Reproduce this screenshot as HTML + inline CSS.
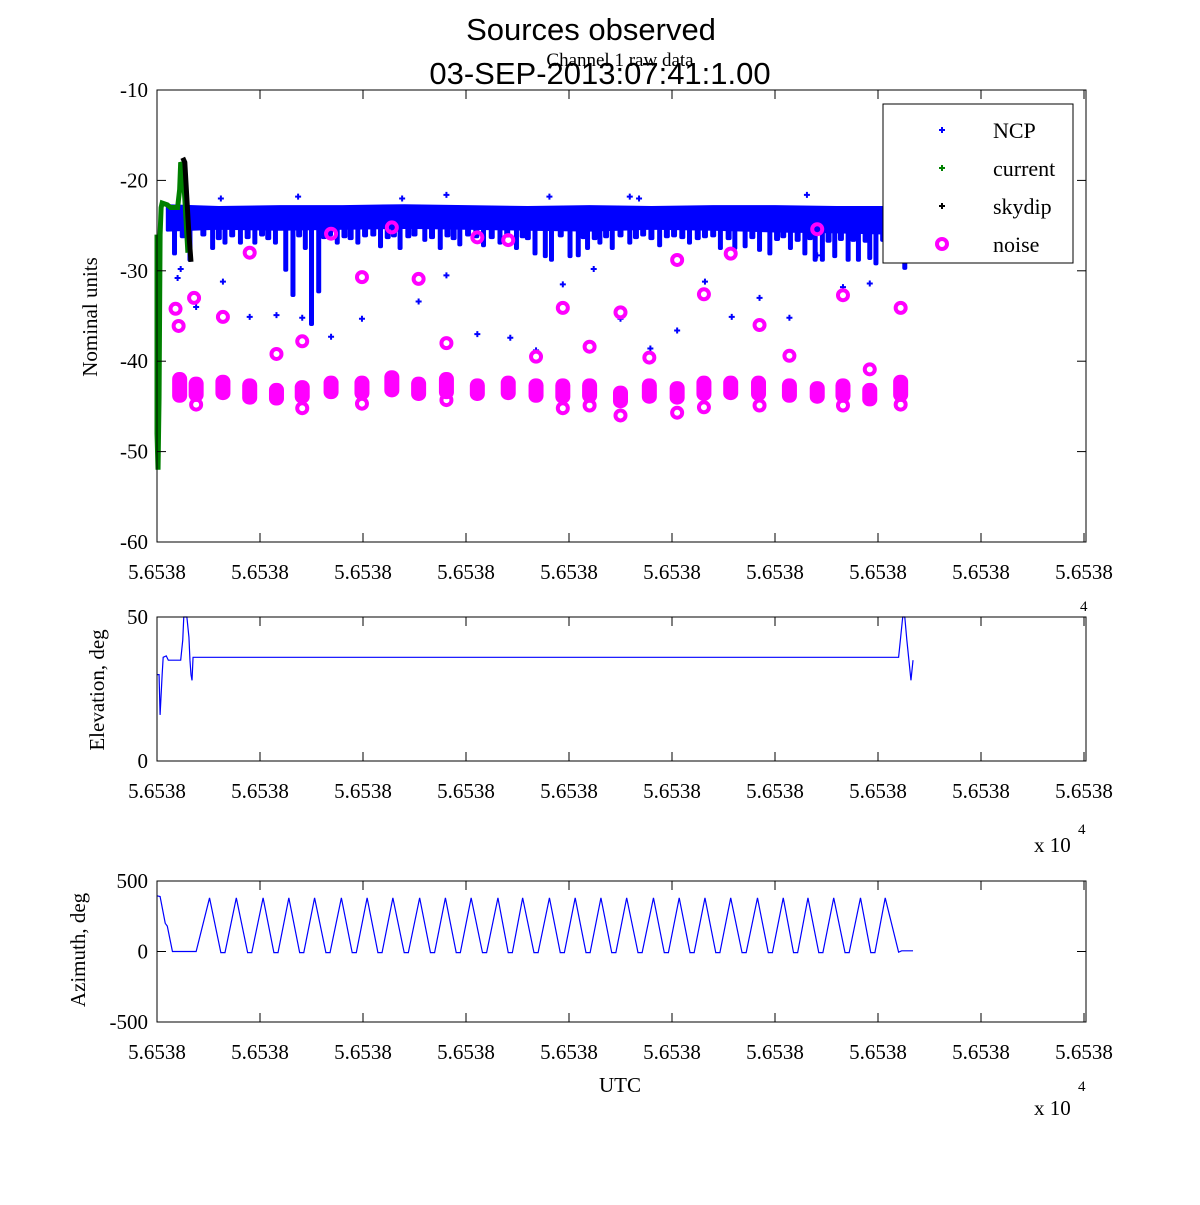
<!DOCTYPE html>
<html><head><meta charset="utf-8"><style>
body{margin:0;background:#fff}
svg text{font-family:"Liberation Serif",serif;fill:#000}
</style></head><body>
<svg id="fig" width="1200" height="1200" viewBox="0 0 1200 1200" xmlns="http://www.w3.org/2000/svg">
<rect width="1200" height="1200" fill="#fff"/>
<text x="591" y="40" font-size="31" text-anchor="middle" style="font-family:'Liberation Sans',sans-serif">Sources observed</text>
<text x="620" y="66" font-size="19" text-anchor="middle">Channel 1 raw data</text>
<text x="600" y="84" font-size="31" text-anchor="middle" style="font-family:'Liberation Sans',sans-serif">03-SEP-2013:07:41:1.00</text>
<g id="p1"></g>
<g id="p2"></g>
<g id="p3"></g>
</svg>
<script>
// ---- data (x in units of axis ticks, 0..9) ----
const xTickLabels=["5.6538","5.6538","5.6538","5.6538","5.6538","5.6538","5.6538","5.6538","5.6538","5.6538"];
const y1Ticks=[-10,-20,-30,-40,-50,-60];
const y2Ticks=[0,50];
const y3Ticks=[-500,0,500];
const bandT=[0.1,0.6,1.2,1.8,2.4,3.0,3.6,4.2,4.8,5.4,6.0,6.6,7.0,7.35];
const bandTop=[-22.8,-23.0,-22.9,-22.9,-22.8,-22.9,-23.0,-22.9,-23.0,-22.9,-22.9,-23.0,-23.0,-23.0];
const bandBot=[-25.5,-25.3,-25.4,-25.3,-25.2,-25.3,-25.4,-25.5,-25.3,-25.4,-25.6,-25.7,-25.8,-25.9];
const dipT=[0.17,0.32,0.54,0.66,0.81,0.95,1.15,1.25,1.32,1.44,1.50,1.57,1.75,1.95,2.17,2.36,2.60,2.75,2.94,3.17,3.33,3.49,3.67,3.77,3.83,4.01,4.09,4.18,4.30,4.42,4.59,4.88,5.17,5.47,5.61,5.71,5.85,5.95,6.15,6.29,6.39,6.46,6.58,6.71,6.81,6.92,6.98,7.12,7.26];
const dipV=[-28.3,-29.0,-27.7,-27.1,-27.1,-27.1,-27.1,-30.1,-32.9,-27.7,-36.1,-32.5,-27.1,-27.1,-27.5,-27.7,-26.8,-27.7,-27.3,-27.4,-27.1,-27.7,-28.3,-28.6,-29.0,-28.6,-28.5,-27.7,-27.1,-27.7,-27.1,-27.4,-27.1,-27.7,-27.7,-27.5,-27.9,-28.3,-27.7,-28.3,-29.0,-29.0,-28.6,-29.0,-29.0,-28.8,-29.4,-28.3,-29.9];
const smallDipT=[0.25,0.45,0.6,0.73,0.88,1.02,1.08,1.38,1.62,1.68,1.82,1.88,2.02,2.1,2.24,2.3,2.44,2.5,2.67,2.82,2.88,3.02,3.1,3.25,3.4,3.55,3.6,3.92,4.14,4.25,4.36,4.5,4.65,4.72,4.8,4.95,5.02,5.1,5.25,5.32,5.4,5.55,5.78,6.02,6.08,6.22,6.34,6.52,6.64,6.76,6.88,7.05,7.18,7.32];
const smallDipV=[-26.4,-26.2,-26.6,-26.3,-26.5,-26.2,-26.6,-26.3,-26.5,-26.2,-26.4,-26.6,-26.3,-26.2,-26.5,-26.3,-26.4,-26.2,-26.5,-26.3,-26.6,-26.2,-26.4,-26.5,-26.3,-26.4,-26.6,-26.3,-26.5,-26.6,-26.4,-26.3,-26.5,-26.2,-26.6,-26.4,-26.3,-26.5,-26.6,-26.4,-26.3,-26.6,-26.5,-26.7,-26.4,-26.8,-26.6,-26.9,-26.7,-26.8,-26.9,-26.8,-27.0,-26.8];
const ncpOutT=[0.23,0.20,0.38,0.64,0.90,1.16,1.41,1.69,1.99,2.54,2.81,3.11,3.43,3.68,3.94,4.24,4.50,4.79,5.05,5.32,5.58,5.85,6.14,6.41,6.66,6.92];
const ncpOutV=[-29.8,-30.8,-34.0,-31.2,-35.1,-34.9,-35.2,-37.3,-35.3,-33.4,-30.5,-37.0,-37.4,-38.8,-31.5,-29.8,-35.3,-38.6,-36.6,-31.2,-35.1,-33.0,-35.2,-28.3,-31.8,-31.4];
const ncpTopT=[0.62,1.37,2.38,2.81,3.81,4.59,4.68,6.31,7.21];
const ncpTopV=[-22.0,-21.8,-22.0,-21.6,-21.8,-21.8,-22.0,-21.6,-21.9];
const curT=[0,0,0.01,0.02,0.03,0.04,0.05,0.1,0.13,0.2,0.22,0.23,0.25,0.27,0.3];
const curV=[-26,-48,-52,-44,-26,-23,-22.5,-22.7,-23,-23,-21,-18,-18.5,-22,-28];
const skyT=[0.25,0.27,0.29,0.31,0.33];
const skyV=[-17.5,-18,-22,-26,-29];
const noiseT=[0.18,0.21,0.36,0.64,0.90,1.16,1.41,1.69,1.99,2.28,2.54,2.81,3.11,3.41,3.68,3.94,4.20,4.50,4.78,5.05,5.31,5.57,5.85,6.14,6.41,6.66,6.92,7.22,0.38,1.41,1.99,2.81,3.94,4.20,4.50,5.05,5.31,5.85,6.66,7.22];
const noiseV=[-34.2,-36.1,-33.0,-35.1,-28.0,-39.2,-37.8,-25.9,-30.7,-25.2,-30.9,-38.0,-26.3,-26.6,-39.5,-34.1,-38.4,-34.6,-39.6,-28.8,-32.6,-28.1,-36.0,-39.4,-25.4,-32.7,-40.9,-34.1,-44.8,-45.2,-44.7,-44.3,-45.2,-44.9,-46.0,-45.7,-45.1,-44.9,-44.9,-44.8];
const clusterT=[0.22,0.38,0.64,0.90,1.16,1.41,1.69,1.99,2.28,2.54,2.81,3.11,3.41,3.68,3.94,4.20,4.50,4.78,5.05,5.31,5.57,5.84,6.14,6.41,6.66,6.92,7.22];
const clusterTop=[-41.2,-41.7,-41.5,-41.9,-42.4,-42.1,-41.6,-41.6,-41.0,-41.7,-41.2,-41.9,-41.6,-41.9,-41.9,-41.9,-42.7,-41.9,-42.2,-41.6,-41.6,-41.6,-41.9,-42.2,-41.9,-42.4,-41.5];
const clusterBot=[-44.6,-44.5,-44.3,-44.8,-44.9,-44.7,-44.2,-44.3,-44.0,-44.4,-44.2,-44.4,-44.3,-44.6,-44.7,-44.6,-45.2,-44.7,-44.8,-44.4,-44.3,-44.4,-44.6,-44.7,-44.6,-45.0,-44.5];
const elT=[0,0.02,0.03,0.05,0.06,0.09,0.11,0.23,0.25,0.26,0.29,0.31,0.32,0.33,0.34,0.35,7.2,7.22,7.24,7.26,7.28,7.3,7.32,7.34];
const elV=[30,30,16,30,36,36.5,35,35,42,50,50,43,35,30,28,36,36,43,50,50,42,35,28,35];
const azPeakT=[0.51,0.77,1.03,1.28,1.53,1.79,2.04,2.29,2.55,2.80,3.05,3.31,3.55,3.81,4.06,4.31,4.56,4.82,5.07,5.32,5.57,5.83,6.08,6.32,6.57,6.83,7.07];
const azPeakV=380, azTroughV=-8;
const azStartT=[0,0.03,0.08,0.1,0.15,0.38];
const azStartV=[395,390,200,180,0,0];
const azEndT=[7.2,7.23,7.34];
const azEndV=[-5,5,5];

// ---- helpers ----
const NS="http://www.w3.org/2000/svg";
function mk(parent,tag,attrs,name){const e=document.createElementNS(NS,tag);for(const k in attrs)e.setAttribute(k,attrs[k]);


parent.appendChild(e);return e;}
const X0=157,X1=1086,XS=103;
const xs=t=>X0+t*XS;
const P1={top:90,bot:542,vmax:-10,vmin:-60};
const P2={top:617,bot:761,vmax:50,vmin:0};
const P3={top:881,bot:1022,vmax:500,vmin:-500};
const ys=(P,v)=>P.top+(P.vmax-v)/(P.vmax-P.vmin)*(P.bot-P.top);

function axes(g,P,yt){
  mk(g,'rect',{x:X0,y:P.top,width:X1-X0,height:P.bot-P.top,fill:'none',stroke:'#000','stroke-width':1},'axes-box');
  xTickLabels.forEach((l,i)=>{const x=xs(i);
    mk(g,'line',{x1:x,x2:x,y1:P.bot,y2:P.bot-9,stroke:'#000'},'x-tick');
    mk(g,'line',{x1:x,x2:x,y1:P.top,y2:P.top+9,stroke:'#000'},'x-tick');
    const t=mk(g,'text',{x:x,y:P.bot+37,'font-size':21,'text-anchor':'middle'},'x-tick-label');t.textContent=l;});
  yt.forEach(v=>{const y=ys(P,v);
    mk(g,'line',{x1:X0,x2:X0+9,y1:y,y2:y,stroke:'#000'},'y-tick');
    mk(g,'line',{x1:X1,x2:X1-9,y1:y,y2:y,stroke:'#000'},'y-tick');
    const t=mk(g,'text',{x:X0-9,y:y+7,'font-size':21,'text-anchor':'end'},'y-tick-label');t.textContent=v;});
}
const g1=document.getElementById('p1'),g2=document.getElementById('p2'),g3=document.getElementById('p3');

// Panel 1
const clip=mk(g1,'g',{},'plot-area');
let pts=bandT.map((t,i)=>xs(t)+','+ys(P1,bandTop[i])).concat(bandT.slice().reverse().map((t,i)=>xs(t)+','+ys(P1,bandBot[bandT.length-1-i])));
mk(clip,'polygon',{points:pts.join(' '),fill:'#0000ff',stroke:'#0000ff','stroke-width':3,'stroke-linejoin':'round'},'ncp-band');
dipT.forEach((t,i)=>{mk(clip,'rect',{x:xs(t)-2.5,y:ys(P1,-25.2),width:5,height:ys(P1,dipV[i])-ys(P1,-25.2),rx:2,fill:'#0000ff'},'ncp-dip');});
smallDipT.forEach((t,i)=>{mk(clip,'rect',{x:xs(t)-3,y:ys(P1,-25.2),width:6,height:ys(P1,smallDipV[i])-ys(P1,-25.2),rx:2,fill:'#0000ff'},'ncp-small-dip');});
ncpOutT.forEach((t,i)=>{mk(clip,'path',{d:`M${xs(t)-3},${ys(P1,ncpOutV[i])}h6M${xs(t)},${ys(P1,ncpOutV[i])-3}v6`,stroke:'#0000ff','stroke-width':2},'ncp-point');});
ncpTopT.forEach((t,i)=>{mk(clip,'path',{d:`M${xs(t)-3},${ys(P1,ncpTopV[i])}h6M${xs(t)},${ys(P1,ncpTopV[i])-3}v6`,stroke:'#0000ff','stroke-width':2},'ncp-point');});
clusterT.forEach((t,i)=>{const yt=ys(P1,clusterTop[i]),yb=ys(P1,clusterBot[i]);
  mk(clip,'rect',{x:xs(t)-7.5,y:yt,width:15,height:yb-yt,rx:7,ry:7,fill:'#ff00ff'},'noise-cluster');});
noiseT.forEach((t,i)=>{mk(clip,'circle',{cx:xs(t),cy:ys(P1,noiseV[i]),r:5,fill:'none',stroke:'#ff00ff','stroke-width':4},'noise-point');});
mk(clip,'polyline',{points:curT.map((t,i)=>xs(t)+','+ys(P1,curV[i])).join(' '),fill:'none',stroke:'#008000','stroke-width':5},'current-series');
mk(clip,'polyline',{points:skyT.map((t,i)=>xs(t)+','+ys(P1,skyV[i])).join(' '),fill:'none',stroke:'#000','stroke-width':5},'skydip-series');
axes(g1,P1,y1Ticks);
let t=mk(g1,'text',{x:0,y:0,'font-size':21,'text-anchor':'middle',transform:'translate(97,317) rotate(-90)'},'y-axis-title');t.textContent='Nominal units';
t=mk(g1,'text',{x:1080,y:611,'font-size':15},'x-exponent');t.textContent='4';
const lg=mk(g1,'g',{},'legend');
mk(lg,'rect',{x:883,y:104,width:190,height:159,fill:'#fff',stroke:'#000'},'legend-box');
const legItems=[['NCP','#0000ff'],['current','#008000'],['skydip','#000'],['noise','#ff00ff']];
legItems.forEach((it,i)=>{const y=130+i*38;
  if(i<3) mk(lg,'path',{d:`M${939},${y}h6M${942},${y-3}v6`,stroke:it[1],'stroke-width':2},'legend-marker');
  else mk(lg,'circle',{cx:942,cy:y,r:5,fill:'none',stroke:it[1],'stroke-width':4},'legend-marker');
  const tx=mk(lg,'text',{x:993,y:y+8,'font-size':22},'legend-label');tx.textContent=it[0];});

// Panel 2
mk(g2,'polyline',{points:elT.map((t,i)=>xs(t)+','+ys(P2,elV[i])).join(' '),fill:'none',stroke:'#0000ff','stroke-width':1.2},'elevation-line');
axes(g2,P2,y2Ticks);
t=mk(g2,'text',{x:0,y:0,'font-size':21,'text-anchor':'middle',transform:'translate(104,690) rotate(-90)'},'y-axis-title');t.textContent='Elevation, deg';
t=mk(g2,'text',{x:1034,y:852,'font-size':21},'x-multiplier');t.textContent='x 10';
t=mk(g2,'text',{x:1078,y:834,'font-size':15},'x-exponent');t.textContent='4';

// Panel 3
let azT=azStartT.slice(),azV=azStartV.slice();
azPeakT.forEach((pt,i)=>{azT.push(pt);azV.push(azPeakV);
  if(i<azPeakT.length-1){const nt=(pt+azPeakT[i+1])/2;azT.push(nt-0.02,nt+0.02);azV.push(azTroughV,azTroughV);}});
azEndT.forEach((tt,i)=>{azT.push(tt);azV.push(azEndV[i]);});
mk(g3,'polyline',{points:azT.map((t,i)=>xs(t)+','+ys(P3,azV[i])).join(' '),fill:'none',stroke:'#0000ff','stroke-width':1.2},'azimuth-line');
axes(g3,P3,y3Ticks);
t=mk(g3,'text',{x:0,y:0,'font-size':21,'text-anchor':'middle',transform:'translate(85,950) rotate(-90)'},'y-axis-title');t.textContent='Azimuth, deg';
t=mk(g3,'text',{x:620,y:1092,'font-size':21,'text-anchor':'middle'},'x-axis-title');t.textContent='UTC';
t=mk(g3,'text',{x:1034,y:1115,'font-size':21},'x-multiplier');t.textContent='x 10';
t=mk(g3,'text',{x:1078,y:1091,'font-size':15},'x-exponent');t.textContent='4';
</script>
</body></html>
